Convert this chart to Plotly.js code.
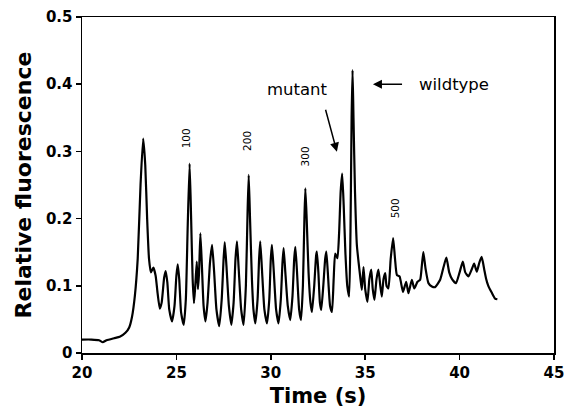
<!DOCTYPE html>
<html>
<head>
<meta charset="utf-8">
<script src="https://cdn.plot.ly/plotly-3.0.1.min.js"></script>
<style>html,body{margin:0;padding:0;background:#fff;}#chart{width:566px;height:410px;}</style>
</head>
<body>
<div id="chart"></div>
<script>
var time = [20.0,20.5,20.9,21.1,21.3,21.7,22.0,22.3,22.5,22.65,22.8,22.95,23.1,23.24,23.35,23.45,23.55,23.65,23.78,23.9,24.0,24.12,24.22,24.35,24.43,24.52,24.62,24.77,24.9,25.0,25.07,25.15,25.25,25.39,25.5,25.6,25.7,25.78,25.86,25.93,26.0,26.08,26.14,26.2,26.27,26.35,26.44,26.54,26.65,26.78,26.89,27.0,27.12,27.27,27.4,27.5,27.56,27.65,27.78,27.91,28.03,28.13,28.21,28.3,28.43,28.56,28.68,28.77,28.83,28.9,29.0,29.08,29.18,29.3,29.38,29.44,29.53,29.66,29.8,29.92,30.0,30.06,30.15,30.28,30.41,30.53,30.62,30.68,30.77,30.9,31.03,31.15,31.24,31.3,31.38,31.5,31.6,31.7,31.78,31.83,31.9,32.0,32.1,32.18,32.3,32.4,32.44,32.52,32.6,32.67,32.78,32.88,32.94,33.02,33.14,33.24,33.33,33.41,33.53,33.62,33.7,33.78,33.86,33.95,34.05,34.15,34.22,34.28,34.33,34.38,34.46,34.56,34.65,34.75,34.82,34.91,35.0,35.12,35.22,35.32,35.4,35.49,35.6,35.7,35.8,35.88,35.97,36.06,36.13,36.23,36.35,36.48,36.58,36.68,36.82,37.0,37.17,37.29,37.47,37.6,37.77,37.91,38.0,38.08,38.2,38.35,38.53,38.7,38.97,39.15,39.3,39.45,39.6,39.81,40.0,40.17,40.3,40.47,40.65,40.77,40.91,41.05,41.17,41.3,41.4,41.52,41.7,41.88,42.0];
var fluorescence = [0.020,0.020,0.019,0.016,0.019,0.022,0.024,0.030,0.038,0.054,0.085,0.140,0.250,0.319,0.280,0.200,0.140,0.120,0.127,0.115,0.090,0.066,0.075,0.112,0.122,0.105,0.065,0.047,0.070,0.115,0.132,0.110,0.060,0.042,0.080,0.190,0.282,0.200,0.110,0.074,0.100,0.136,0.095,0.120,0.178,0.130,0.070,0.047,0.075,0.135,0.161,0.120,0.065,0.040,0.080,0.140,0.165,0.130,0.070,0.042,0.075,0.140,0.166,0.125,0.065,0.042,0.100,0.210,0.265,0.200,0.110,0.065,0.044,0.080,0.140,0.166,0.125,0.065,0.044,0.080,0.140,0.161,0.125,0.065,0.044,0.080,0.135,0.156,0.120,0.070,0.049,0.085,0.140,0.158,0.125,0.065,0.049,0.100,0.200,0.245,0.200,0.120,0.075,0.061,0.100,0.145,0.151,0.120,0.075,0.064,0.100,0.140,0.151,0.120,0.070,0.061,0.110,0.148,0.141,0.180,0.240,0.267,0.220,0.150,0.100,0.084,0.180,0.350,0.421,0.350,0.240,0.160,0.135,0.110,0.094,0.128,0.095,0.076,0.110,0.124,0.095,0.079,0.110,0.124,0.100,0.084,0.110,0.119,0.100,0.096,0.140,0.171,0.140,0.116,0.114,0.091,0.106,0.089,0.109,0.096,0.106,0.109,0.130,0.150,0.125,0.104,0.099,0.098,0.109,0.128,0.142,0.120,0.110,0.104,0.120,0.136,0.120,0.114,0.125,0.133,0.121,0.135,0.143,0.125,0.111,0.100,0.090,0.081,0.080];

var sizeLabels = ["100","200","300","500"];
var sizeLabelX = [25.53,28.70,31.83,36.55];
var sizeLabelY = [0.320,0.316,0.293,0.216];

var xTickVals = [20,25,30,35,40,45];
var yTickVals = [0,0.1,0.2,0.3,0.4,0.5];

var annotations = [];
for (var i = 0; i < sizeLabels.length; i++) {
  annotations.push({x: sizeLabelX[i], y: sizeLabelY[i], xref:'x', yref:'y', text: sizeLabels[i],
    showarrow:false, textangle:-90, font:{family:'DejaVu Sans', size:10.5, color:'#000'}});
}
annotations.push({x:33.50, y:0.2996, xref:'x', yref:'y', text:'', showarrow:true, ax:-11.7, ay:-43.4,
  arrowhead:2, arrowsize:1.2, arrowwidth:1.5, arrowcolor:'#000'});
annotations.push({x:35.41, y:0.40, xref:'x', yref:'y', text:'', showarrow:true, ax:30.6, ay:0,
  arrowhead:2, arrowsize:1.2, arrowwidth:1.5, arrowcolor:'#000'});
annotations.push({x:31.40, y:0.392, xref:'x', yref:'y', text:'mutant', showarrow:false, xanchor:'center', yanchor:'middle',
  font:{family:'DejaVu Sans', size:16.5, color:'#000'}});
annotations.push({x:37.74, y:0.400, xref:'x', yref:'y', text:'wildtype', showarrow:false, xanchor:'left', yanchor:'middle',
  font:{family:'DejaVu Sans', size:16.5, color:'#000'}});

var trace = {x: time, y: fluorescence, type:'scatter', mode:'lines', line:{color:'#000', width:2.2, shape:'spline', smoothing:0.5}, hoverinfo:'skip'};

var layout = {
  width:566, height:410,
  margin:{l:81.5, r:12, t:17, b:57},
  paper_bgcolor:'#fff', plot_bgcolor:'#fff',
  showlegend:false,
  xaxis:{range:[20,45], tickvals:xTickVals, showgrid:false, zeroline:false, showline:true, mirror:true,
    linecolor:'#000', linewidth:1.5, ticks:'outside', ticklen:5, tickwidth:1.5, tickcolor:'#000',
    tickfont:{family:'DejaVu Sans', size:15, color:'#000', weight:'bold'},
    title:{text:'Time (s)', font:{family:'DejaVu Sans', size:21, color:'#000', weight:'bold'}, standoff:8}},
  yaxis:{range:[0,0.5], tickvals:yTickVals, ticktext:['0','0.1','0.2','0.3','0.4','0.5'], showgrid:false, zeroline:false, showline:true, mirror:true,
    linecolor:'#000', linewidth:1.5, ticks:'outside', ticklen:5, tickwidth:1.5, tickcolor:'#000',
    tickfont:{family:'DejaVu Sans', size:15, color:'#000', weight:'bold'},
    title:{text:'Relative fluorescence', font:{family:'DejaVu Sans', size:22, color:'#000', weight:'bold'}, standoff:8}},
  annotations: annotations
};

Plotly.newPlot('chart', [trace], layout, {staticPlot:true, displayModeBar:false});
</script>
</body>
</html>
